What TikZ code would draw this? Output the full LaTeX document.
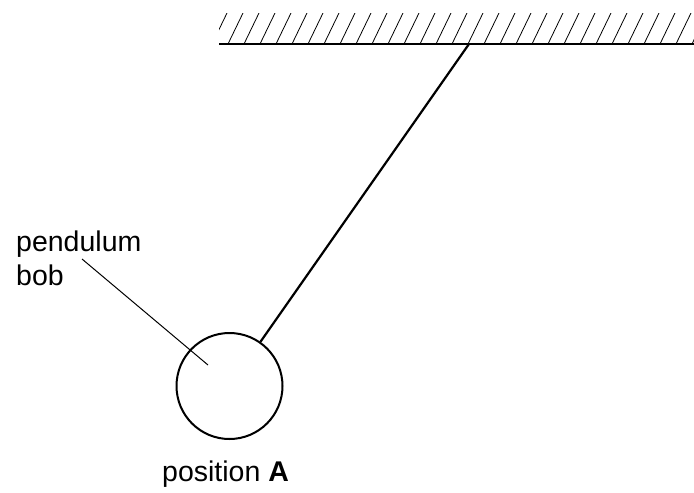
\documentclass[tikz,border=0pt]{standalone}
\usepackage{fontspec}
\setmainfont{Liberation Sans}
\begin{document}
\begin{tikzpicture}[x=1pt,y=-1pt,
  lbl/.style={inner sep=0pt,anchor=base west,font=\fontsize{28.5}{34}\selectfont},
  hatchline/.style={line width=0.8pt},
  bobstyle/.style={circle,draw,line width=2pt,minimum size=106pt,inner sep=0pt}]
\useasboundingbox (0,0) rectangle (694,493);
% ceiling hatch
\begin{scope}
\clip (219,13) rectangle (694,44);
\foreach \k in {0,...,31} {
  \draw[hatchline] ({212+16*\k},44) -- ({227+16*\k},13);
}
\end{scope}
\coordinate (cl) at (219,44);
\coordinate (cr) at (694,44);
\draw[line width=2.4pt] (cl) -- (cr);
\coordinate (pivot) at (469,44);
\node[bobstyle] (bob) at (229.5,386) {};
\draw[line width=2.2pt] (pivot) -- (bob);
% labels
\node[lbl] (t1) at (16,251) {pendulum};
\node[lbl] (t2) at (16,285) {bob};
\coordinate (ls) at (82,259);
\coordinate (le) at (208,365);
\draw[line width=1pt] (ls) -- (le);
\node[lbl] (pos) at (162,481) {position \textbf{A}};
\end{tikzpicture}
\end{document}
